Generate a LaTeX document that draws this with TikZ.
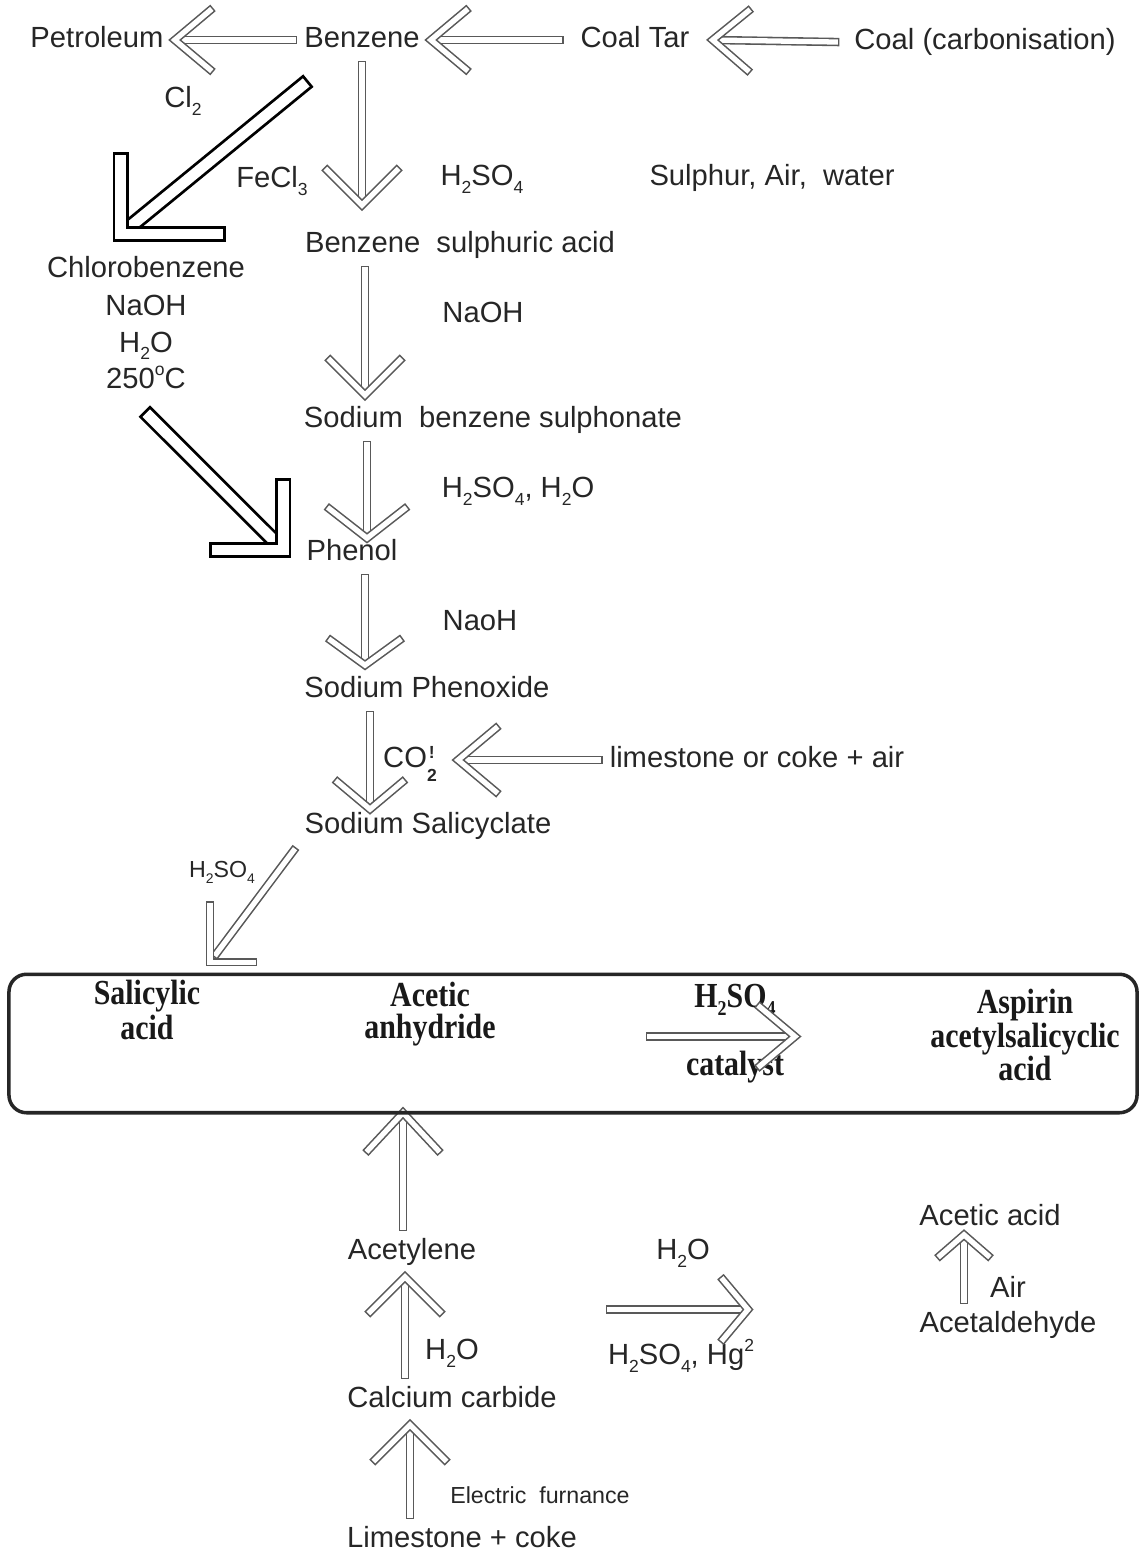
\documentclass[tikz,border=0pt]{standalone}
\usepackage{fontspec}
\setmainfont{Liberation Sans}
\newfontfamily\boxfont{Liberation Serif}[FakeStretch=0.85]
\usetikzlibrary{calc}

\newcommand{\lo}[1]{\raisebox{-0.5ex}{\scalebox{0.6}{#1}}}
\newcommand{\hi}[1]{\raisebox{0.85ex}{\scalebox{0.6}{#1}}}

\tikzset{
    txt/.style={font=\fontsize{8.3}{10}\selectfont, text=black!85, inner sep=3pt, text height=6pt, text depth=1.7pt},
    cond/.style={font=\fontsize{8.3}{10.3}\selectfont, text=black!85, inner sep=3pt, align=center},
    small/.style={font=\fontsize{6.6}{8}\selectfont, text=black!85, inner sep=2pt},
    bold/.style={font=\boxfont\bfseries\fontsize{10}{9}\selectfont, text=black!90, inner sep=2pt, align=center},
    shaft/.style={draw=black!65, line width=0.45pt, double=white, double distance=1.5pt, line cap=rect, line join=miter},
    bigshaft/.style={draw=black, line width=0.8pt, double=white, double distance=3pt, line cap=rect, line join=miter},
    boxline/.style={draw=black!85, line width=1pt, rounded corners=5pt}
}

% hollow arrow: [half angle]{arm length}{tail}{tip}
\newcommand{\hollow}[4][45]{%
    \coordinate (ha) at (#3);
    \coordinate (hb) at (#4);
    \draw[shaft] (ha) -- ($(hb)!1.5pt!(ha)$);
    \draw[shaft] ($(hb)!#2!#1:(ha)$) -- (hb) -- ($(hb)!#2!-#1:(ha)$);
}

\begin{document}
\begin{tikzpicture}[x=0.01cm, y=-0.01cm]
\useasboundingbox (0,0) rectangle (1138,1555);

% sources
\node[txt] (petrol) at (97,40) {Petroleum};
\node[txt] (benz) at (362,40) {Benzene};
\node[txt] (coaltar) at (635,40) {Coal Tar};
\node[txt] (coal) at (985,42) {Coal (carbonisation)};
\hollow[40]{13pt}{benz.west}{petrol.east}
\hollow[40]{13pt}{$(coaltar.west)+(-10,0)$}{benz.east}
\hollow[40]{13pt}{$(coal.west)+(-8,0)$}{$(coaltar.east)+(12,0)$}

% sulphonation route
\node[txt] (cl) at (183,100) {Cl\lo{2}};
\node[txt] (fecl) at (272,180) {FeCl\lo{3}};
\node[txt] (hso1) at (482,178) {H\lo{2}SO\lo{4}};
\node[txt] (sulph) at (772,178) {Sulphur, Air,~ water};
\node[txt] (bsa) at (460,245) {Benzene~ sulphuric acid};
\hollow{14pt}{benz.south}{$(benz.south |- bsa.north)+(0,-15)$}

\node[txt] (naoh1) at (483,315) {NaOH};
\node[txt] (sbs) at (493,420) {Sodium~ benzene sulphonate};
\hollow{14pt}{$(benz.south |- bsa.south)+(3,0)$}{$(benz.south |- sbs.north)+(3,0)$}

\node[txt] (hsoh) at (518,490) {H\lo{2}SO\lo{4}, H\lo{2}O};
\node[txt] (phenol) at (352,553) {Phenol};
\hollow[52]{13.5pt}{$(benz.south |- sbs.south)+(5,0)$}{$(benz.south |- phenol.north)+(5,10)$}

% chlorobenzene route
\node[txt] (chloro) at (146,270) {Chlorobenzene};
\node[cond] (cond) at (146,342) {NaOH\\H\lo{2}O\\250\hi{o}C};
\coordinate (clcorner) at ($(chloro.north west)+(85,-11)$);
\draw[bigshaft, shorten >=4pt] ($(benz.south west)+(9,21)$) -- (clcorner);
\draw[bigshaft] ($(clcorner)+(0,-74)$) -- (clcorner) -- ++(97,0);
\coordinate (phcorner) at ($(phenol.west)+(-12,-3)$);
\draw[bigshaft, shorten >=4pt] ($(cond.south)+(4,17)$) -- (phcorner);
\draw[bigshaft] ($(phcorner)+(0,-64)$) -- (phcorner) -- ++(-66,0);

% phenol to salicylate
\node[txt] (naoh3) at (480,623) {NaoH};
\node[txt] (phenox) at (427,690) {Sodium Phenoxide};
\hollow[54]{12pt}{$(benz.south |- phenol.south)+(3,0)$}{$(benz.south |- phenox.north)+(3,0)$}

\node[txt] (co2) at (410,760) {CO\raisebox{-0.9ex}{\scalebox{0.6}{\bfseries\shortstack{!\\[2pt]2}}}};
\node[txt] (lime) at (757,760) {limestone or coke + air};
\node[txt] (salic) at (428,826) {Sodium Salicyclate};
\hollow[50]{12pt}{$(benz.south |- phenox.south)+(8,0)$}{$(benz.south |- salic.north)+(8,8)$}
\hollow[40]{14pt}{lime.west}{$(co2.east)+(10,0)$}

% final step
\node[small] (hso2) at (222,872) {H\lo{2}SO\lo{4}};
\node[minimum width=11.26cm, minimum height=1.37cm, inner sep=0pt] (box) at (573,1043.5) {};
\coordinate (sacorner) at ($(box.north west)+(201,-12)$);
\draw[shaft, shorten >=3pt] (salic.south west) -- (sacorner);
\draw[shaft] ($(sacorner)+(0,-57)$) -- (sacorner) -- ++(43,0);

\node[bold] (salacid) at (147,1010) {Salicylic\\acid};
\node[bold] (anhyd) at (430,1014) {Acetic\\anhydride};
\node[bold] (hso3) at (735,1000) {H\lo{2}SO\lo{4}};
\node[bold] (catal) at (735,1067) {catalyst};
\node[bold, font=\boxfont\bfseries\fontsize{10}{9.4}\selectfont] (aspirin) at (1025,1035) {Aspirin\\acetylsalicyclic\\acid};
\hollow[40]{13pt}{$(hso3)!0.5!(catal)+(-85,3)$}{$(hso3)!0.5!(catal)+(60,3)$}

% acetic anhydride supply
\node[txt] (acetyl) at (412,1252) {Acetylene};
\node[txt] (h2o2) at (452,1352) {H\lo{2}O};
\node[txt] (cacarb) at (452,1400) {Calcium carbide};
\node[small] (furn) at (540,1495) {Electric~ furnance};
\node[txt] (limecoke) at (462,1540) {Limestone + coke};
\hollow[43]{14.5pt}{$(acetyl.north)+(-9,0)$}{$(acetyl.north |- box.south)+(-9,0)$}
\hollow{14pt}{$(cacarb.north -| acetyl.north)+(-7,0)$}{$(acetyl.south)+(-7,0)$}
\hollow{14pt}{$(limecoke.north -| acetyl.north)+(-2,0)$}{$(cacarb.south -| acetyl.north)+(-2,0)$}

\node[txt] (h2o3) at (683,1252) {H\lo{2}O};
\node[txt] (hghso) at (681,1357) {H\lo{2}SO\lo{4}, Hg\hi{2}};
\hollow[50]{11pt}{$(h2o3)!0.5!(hghso)+(-72,5)$}{$(h2o3)!0.5!(hghso)+(66,5)$}

\node[txt] (acid) at (990,1218) {Acetic acid};
\node[txt] (air) at (1008,1290) {Air};
\node[txt] (acetald) at (1008,1325) {Acetaldehyde};
\hollow[49]{9pt}{$(acetald.north)+(-44,0)$}{$(acid.south -| acetald.north)+(-44,-8)$}

\draw[boxline] (box.north west) rectangle (box.south east);
\end{tikzpicture}
\end{document}
